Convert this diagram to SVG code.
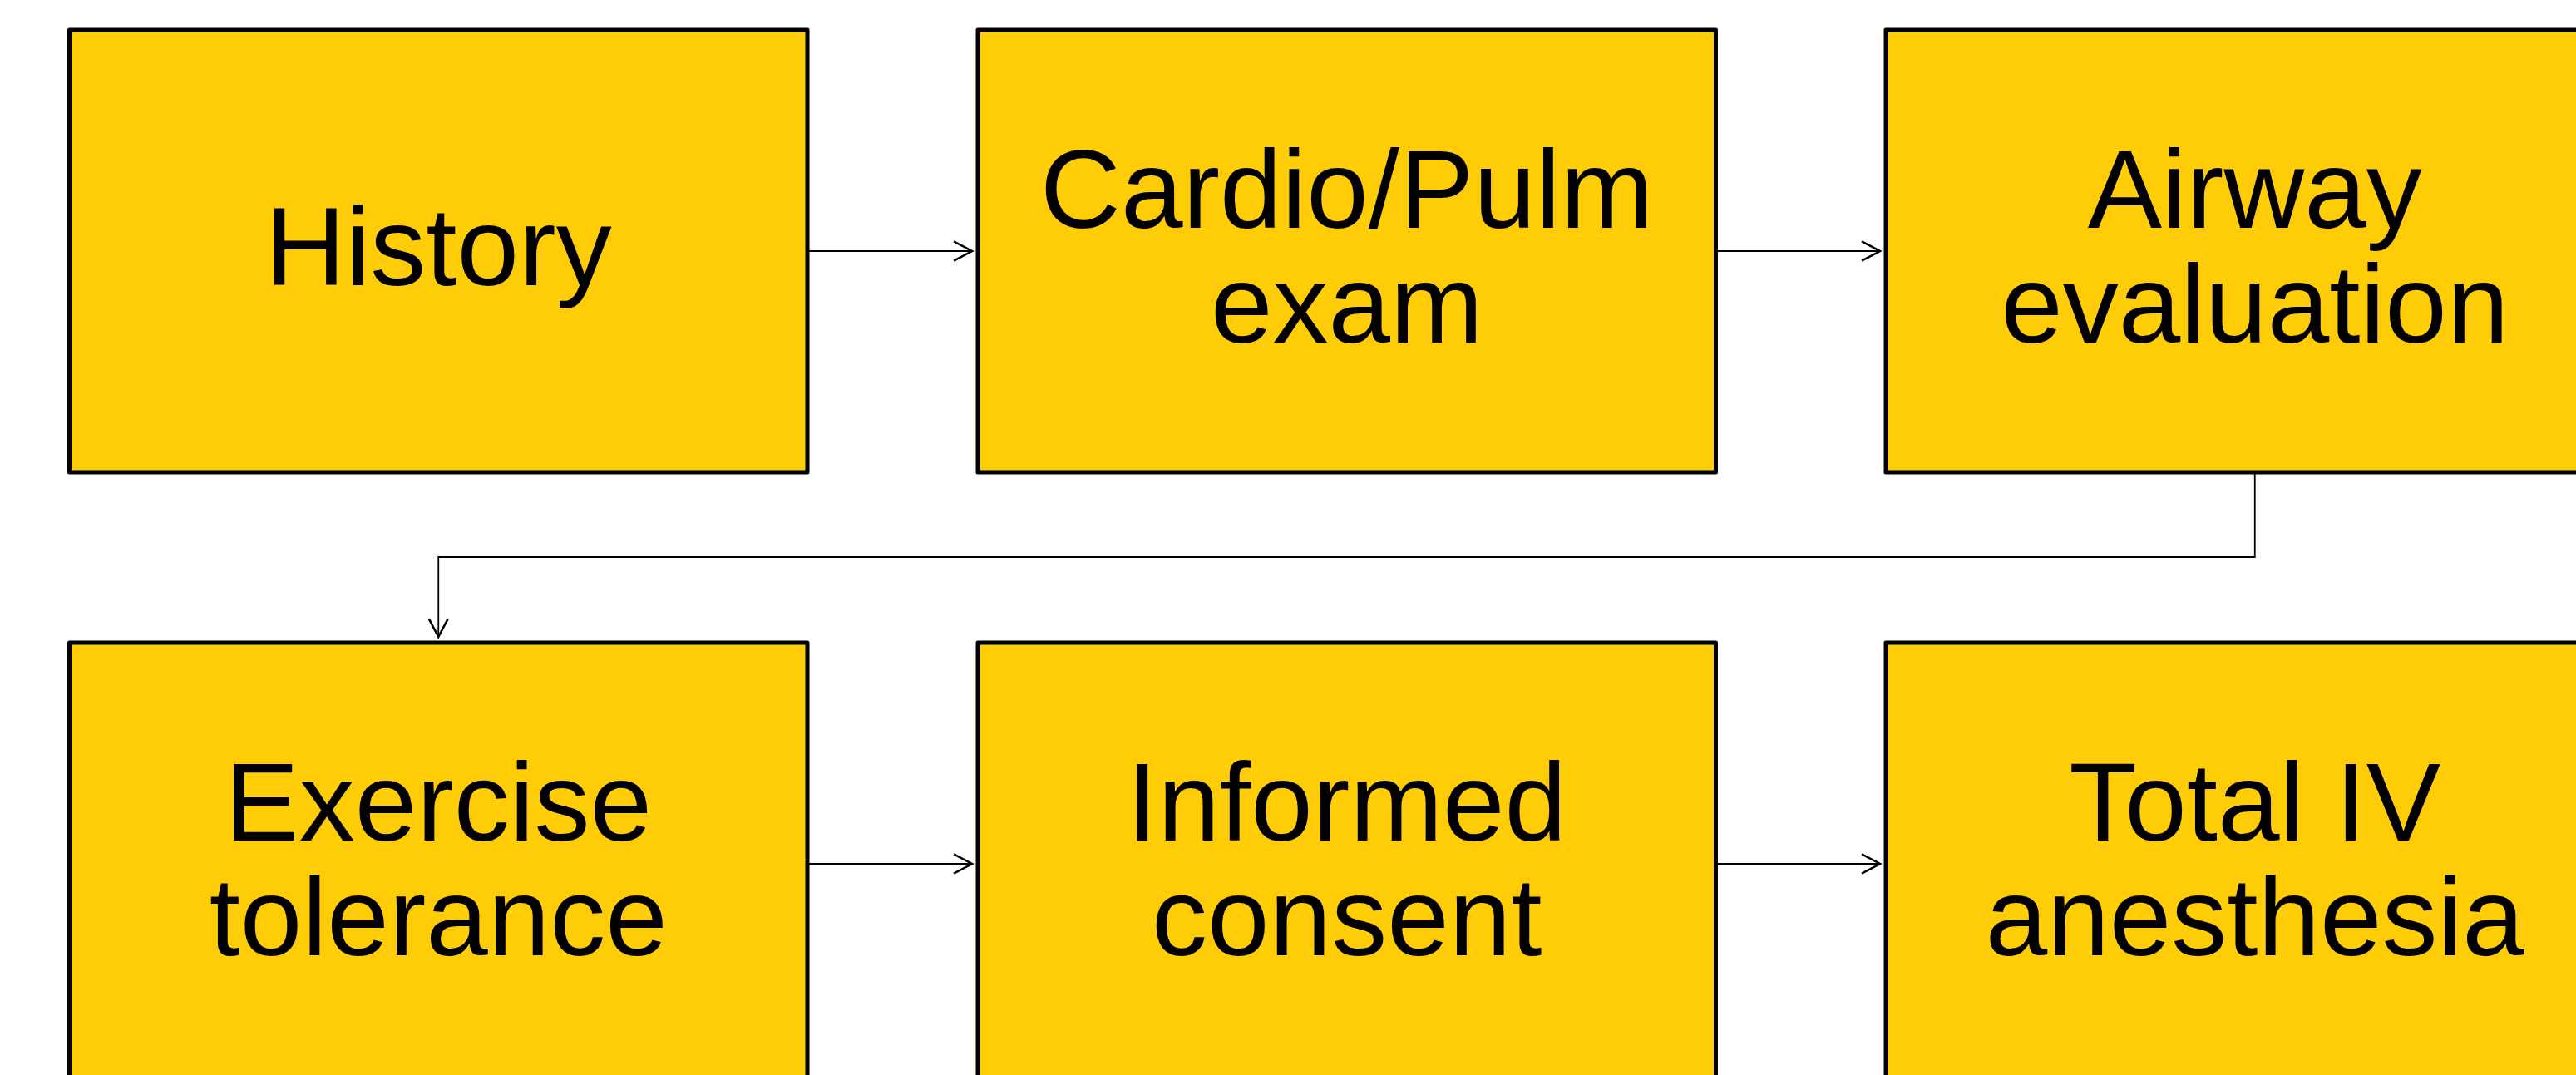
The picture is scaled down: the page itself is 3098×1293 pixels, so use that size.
<svg xmlns="http://www.w3.org/2000/svg" width="3098" height="1293" viewBox="0 0 3098 1293">
  <style>
    .box { fill: #FFCC08; stroke: #000; stroke-width: 5; stroke-linejoin: round; }
    .lbl { font-family: "Liberation Sans", Arial, sans-serif; font-size: 134px; fill: #000; text-anchor: middle; }
    .conn { fill: none; stroke: #000; stroke-width: 1.8; }
  </style>
  <defs>
    <marker id="arr" markerUnits="userSpaceOnUse" markerWidth="30" markerHeight="30" viewBox="-22 -13 26 26" refX="0" refY="0" orient="auto">
      <path d="M-19,-10 L0,0 L-19,10" fill="none" stroke="#000" stroke-width="2.2"/>
    </marker>
  </defs>
  <rect width="3098" height="1293" fill="#fff"/>
  <g id="connectors">
    <line class="conn" x1="971" y1="302" x2="1169" y2="302" marker-end="url(#arr)"/>
    <line class="conn" x1="2063.5" y1="302" x2="2261" y2="302" marker-end="url(#arr)"/>
    <polyline class="conn" points="2711.75,568 2711.75,670 527.25,670 527.25,766" marker-end="url(#arr)"/>
    <line class="conn" x1="971" y1="1039" x2="1169" y2="1039" marker-end="url(#arr)"/>
    <line class="conn" x1="2063.5" y1="1039" x2="2261" y2="1039" marker-end="url(#arr)"/>
  </g>
  <g id="history">
    <rect class="box" x="83.5" y="36" width="887.5" height="532"/>
    <text class="lbl" x="527.25" y="343">History</text>
  </g>
  <g id="cardio">
    <rect class="box" x="1176" y="36" width="887.5" height="532"/>
    <text class="lbl" x="1619.75" y="274">Cardio/Pulm</text>
    <text class="lbl" x="1619.75" y="412">exam</text>
  </g>
  <g id="airway">
    <rect class="box" x="2268" y="36" width="887.5" height="532"/>
    <text class="lbl" x="2711.75" y="274">Airway</text>
    <text class="lbl" x="2711.75" y="412">evaluation</text>
  </g>
  <g id="exercise">
    <rect class="box" x="83.5" y="773" width="887.5" height="532"/>
    <text class="lbl" x="527.25" y="1011">Exercise</text>
    <text class="lbl" x="527.25" y="1149">tolerance</text>
  </g>
  <g id="consent">
    <rect class="box" x="1176" y="773" width="887.5" height="532"/>
    <text class="lbl" x="1619.75" y="1011">Informed</text>
    <text class="lbl" x="1619.75" y="1149">consent</text>
  </g>
  <g id="tiva">
    <rect class="box" x="2268" y="773" width="887.5" height="532"/>
    <text class="lbl" x="2711.75" y="1011">Total IV</text>
    <text class="lbl" x="2711.75" y="1149">anesthesia</text>
  </g>
</svg>
